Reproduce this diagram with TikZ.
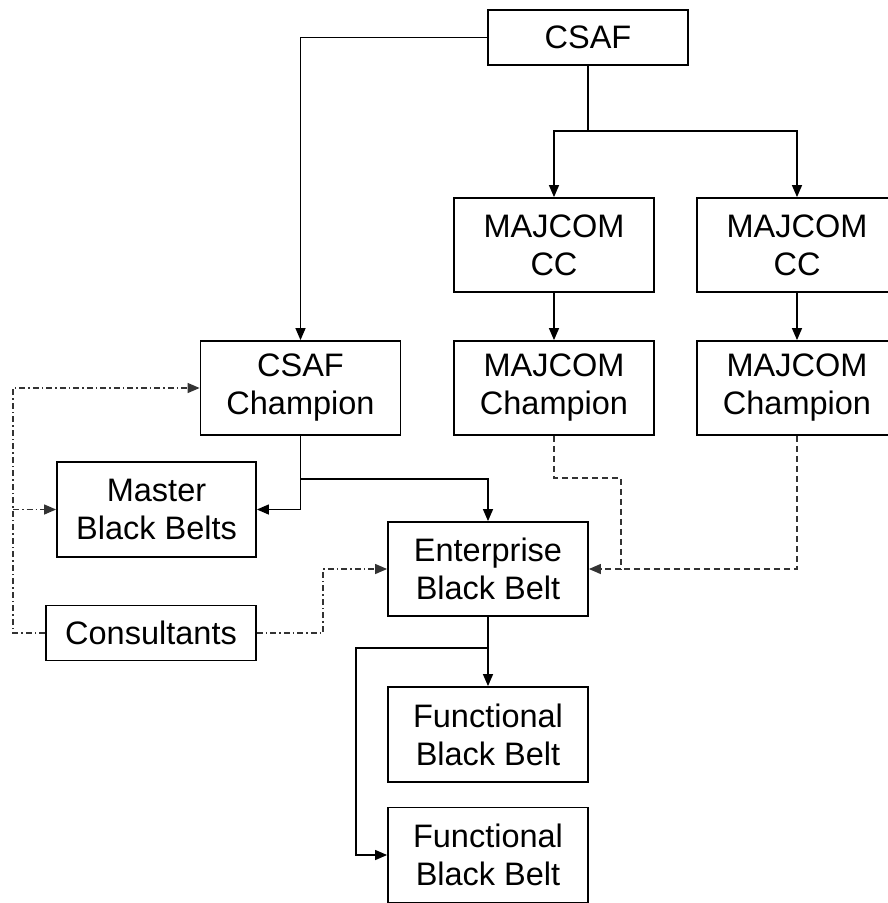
\documentclass[tikz,border=0pt]{standalone}
\usepackage{fontspec}
\setmainfont{Liberation Sans}
\usetikzlibrary{positioning}
\usetikzlibrary{arrows.meta}

\begin{document}
\begin{tikzpicture}[x=1pt,y=-1pt,>={Triangle[length=12pt,width=10pt]},
  box/.style={draw,line width=1.8pt,minimum width=200pt,minimum height=94pt,
    inner sep=0pt,align=center,font=\fontsize{32.5}{38}\selectfont},
  flat/.style={box,minimum height=55pt},
  link/.style={line width=1.3pt},
  dashlink/.style={link,black!80,dash pattern=on 6pt off 4pt},
  dotlink/.style={link,black!80,dash pattern=on 6pt off 3pt on 1.5pt off 3pt}]
  \useasboundingbox (0,0) rectangle (888,903);

  % boxes
  \node[flat] (csaf) at (588,37.5) {CSAF};
  \node[box] (ccA) at (554,245) {MAJCOM\\CC};
  \node[box] (ccB) at (797,245) {MAJCOM\\CC};
  \node[box] (chA) at (554,388) {MAJCOM\\Champion};
  \node[box] (chB) at (797,388) {MAJCOM\\Champion};
  \node[box] (csafch) at (300.5,388) {CSAF\\Champion};
  \node[box,minimum width=199pt,minimum height=95pt] (master) at (156.5,509.5) {Master\\Black Belts};
  \node[flat,minimum width=210pt] (cons) at (151,633) {Consultants};
  \node[box] (ent) at (488,569) {Enterprise\\Black Belt};
  \node[box,minimum height=95pt] (funcA) at (488,734.5) {Functional\\Black Belt};
  \node[box,minimum height=95pt] (funcB) at (488,855) {Functional\\Black Belt};

  % branch points
  \coordinate (sp1) at (588,131);
  \coordinate (sp2) at (300.5,479);
  \coordinate (sp3) at (488,648);
  \coordinate (dl) at (554,478);
  \coordinate (join) at (621,569);
  \coordinate (rail) at (13,509.5);
  \coordinate (cb) at (323,633);
  \coordinate (fl) at (356,648);

  % solid lines
  \draw[link,->] (csaf.west) -| (csafch.north);
  \draw[link] (csaf.south) -- (sp1);
  \draw[link,->] (sp1) -| (ccA.north);
  \draw[link,->] (sp1) -| (ccB.north);
  \draw[link,->] (ccA) -- (chA);
  \draw[link,->] (ccB) -- (chB);
  \draw[link] (csafch.south) -- (sp2);
  \draw[link,->] (sp2) |- (master.east);
  \draw[link,->] (sp2) -| (ent.north);
  \draw[link] (ent.south) -- (sp3);
  \draw[link,->] (sp3) -- (funcA.north);
  \draw[link,->] (sp3) -- (fl) |- (funcB.west);

  % dashed lines
  \draw[dashlink] (chA.south) -- (dl) -| (join);
  \draw[dashlink] (chB.south) |- (join);
  \draw[dashlink,->] (join) -- (ent.east);

  % dash-dot lines
  \draw[dotlink,->] (cons.west) -| (rail) |- (csafch.west);
  \draw[dotlink,->] (rail) -- (master.west);
  \draw[dotlink,->] (cons.east) -- (cb) |- (ent.west);
\end{tikzpicture}
\end{document}
